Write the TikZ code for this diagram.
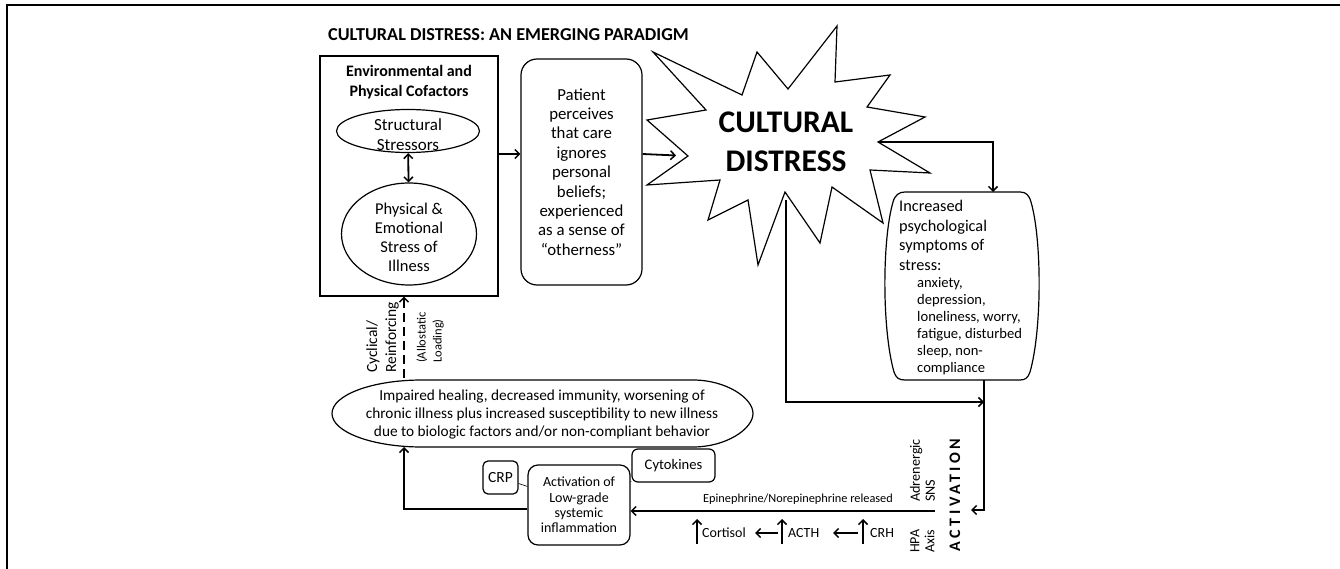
\documentclass[tikz,border=0pt]{standalone}
\usepackage{fontspec}
\setmainfont{Carlito}
\usetikzlibrary{shapes.geometric,arrows.meta}
\newcommand{\fsz}[2]{\fontsize{#1}{#2}\selectfont}
\begin{document}
\begin{tikzpicture}[x=1pt,y=-1pt,
  boxline/.style={draw=black,line width=1.2pt},
  tip/.tip={Straight Barb[length=4.5pt,width=9pt,line width=1.5pt]},
  arr/.style={line width=1.8pt,-tip},
  conn/.style={line width=1.8pt},
  plain/.style={inner sep=0pt,align=center}]
\useasboundingbox (0,0) rectangle (1340,569);
\draw[line width=2pt] (7,569) -- (7,5) -- (1340,5);

% title
\node[anchor=base west,inner sep=0pt,font=\bfseries\fsz{18.2}{20}] (title) at (328,41) {CULTURAL DISTRESS: AN EMERGING PARADIGM};

% environmental box
\node[boxline,minimum width=178pt,minimum height=240pt,inner sep=0pt] (env) at (409,176) {};
\node[plain,font=\bfseries\fsz{16}{20}] (envh) at (409,82) {Environmental and\\Physical Cofactors};
\node[draw,ellipse,line width=1.2pt,minimum width=143pt,minimum height=43pt,inner sep=0pt] (struct) at (408,131) {};
\node[plain,font=\fsz{17}{20}] (structt) at (408,135) {Structural\\Stressors};
\node[draw,ellipse,line width=1.2pt,minimum width=135pt,minimum height=102pt,inner sep=0pt] (phys) at (409,234) {};
\node[plain,font=\fsz{16.5}{19}] (physt) at (409,237) {Physical \&\\Emotional\\Stress of\\Illness};
\draw[line width=1.8pt,tip-tip] (struct) -- (phys);

% patient box
\node[boxline,rounded corners=16pt,minimum width=121pt,minimum height=226pt,align=center,font=\fsz{16.8}{19.4}] (patient) at (581.5,172) {Patient\\perceives\\that care\\ignores\\personal\\beliefs;\\experienced\\as a sense of\\“otherness”};

% star
\coordinate (s1) at (653,52);
\coordinate (s2) at (742,95);
\coordinate (s3) at (757,52);
\coordinate (s4) at (788,89);
\coordinate (s5) at (837,26);
\coordinate (s6) at (835,82);
\coordinate (s7) at (890,75);
\coordinate (s8) at (867,107);
\coordinate (s9) at (925,117);
\coordinate (s10) at (878,142);
\coordinate (s11) at (930,173);
\coordinate (s12) at (870,170);
\coordinate (s13) at (883,223);
\coordinate (s14) at (832,187);
\coordinate (s15) at (820,243);
\coordinate (s16) at (785,192);
\coordinate (s17) at (758,265);
\coordinate (s18) at (748,200);
\coordinate (s19) at (708,220);
\coordinate (s20) at (720,180);
\coordinate (s21) at (647,185);
\coordinate (s22) at (688,156);
\coordinate (s23) at (647,120);
\coordinate (s24) at (706,110);
\draw[line width=1.2pt] (s1)--(s2)--(s3)--(s4)--(s5)--(s6)--(s7)--(s8)--(s9)--(s10)--(s11)--(s12)--(s13)--(s14)--(s15)--(s16)--(s17)--(s18)--(s19)--(s20)--(s21)--(s22)--(s23)--(s24)--cycle;
\node[plain,font=\bfseries\fsz{31.5}{39}] (cd) at (786,142) {CULTURAL\\DISTRESS};

% right box
\draw[line width=1.2pt] (905,192) -- (1020,192) .. controls (1026,192) and (1029,195) .. (1031,202)
  .. controls (1042,240) and (1042,330) .. (1030,372) .. controls (1028,378) and (1025,380) .. (1020,380)
  -- (905,380) .. controls (899,380) and (896,378) .. (894,372) .. controls (882,330) and (882,240) .. (893,202)
  .. controls (895,195) and (899,192) .. (905,192) -- cycle;
\node[anchor=north west,inner sep=0pt,text width=140pt,align=left] (rbt) at (899,200) {%
  {\fsz{16.3}{19.5}Increased\\psychological\\symptoms of\\stress:\par}%
  {\fsz{14.6}{17}\leftskip=18pt anxiety,\\depression,\\loneliness, worry,\\fatigue, disturbed\\sleep, non-\\compliance\par}};
\coordinate (rbtop) at (993,192);
\coordinate (rbbot) at (984,380);

% big oval
\draw[line width=1.2pt] (422,380) -- (693,380) .. controls (726,380) and (753,398) .. (753,413.5)
  .. controls (753,429) and (726,447) .. (693,447) -- (422,447)
  .. controls (372,447) and (332,432) .. (332,413.5) .. controls (332,395) and (372,380) .. (422,380) -- cycle;
\node[plain,font=\fsz{15.3}{18}] (bigt) at (542,415) {Impaired healing, decreased immunity, worsening of\\chronic illness plus increased susceptibility to new illness\\due to biologic factors and/or non-compliant behavior};
\coordinate (bigtop) at (404,378);
\coordinate (bigbot) at (404,447);

% activation / CRP / cytokines
\node[boxline,rounded corners=10pt,minimum width=102pt,minimum height=80pt,align=center,font=\fsz{14}{15.3}] (actbox) at (579,505) {Activation of\\Low-grade\\systemic\\inflammation};
\node[boxline,rounded corners=5pt,minimum width=35pt,minimum height=33pt,inner sep=0pt,font=\fsz{15.5}{17}] (crp) at (500.5,477.5) {CRP};
\node[boxline,rounded corners=6pt,minimum width=83pt,minimum height=33pt,inner sep=0pt,font=\fsz{14.6}{17}] (cyto) at (673.5,465.5) {Cytokines};
\draw[line width=0.6pt] ([yshift=-6pt]crp.east) -- ([yshift=-22pt]actbox.north west);
\draw[line width=0.6pt] ([yshift=-17pt]actbox.north east) -- ([yshift=1pt]cyto.south west);

% connectors
\coordinate (p154) at (0,154);
\draw[arr] (env.east |- p154) -- (patient.west |- p154);
\draw[arr,shorten >=12pt] (patient.east |- p154) -- (s22);
\draw[arr] (s10) -| (rbtop);
\coordinate (sb) at (786,200);
\coordinate (j1) at (984,402);
\draw[arr] (sb) |- (j1);
\coordinate (actv) at (971,510);
\draw[arr] (rbbot) |- (actv);
\coordinate (epis) at (935,511);
\draw[arr] (epis) -- (actbox.east |- epis);
\coordinate (q509) at (0,509);
\draw[arr] (actbox.west |- q509) -| (bigbot);
\draw[arr,dash pattern=on 9pt off 5pt] (bigtop) -- (env.south -| bigtop);

% labels on connectors
\node[font=\fsz{12.3}{14},inner sep=0pt] (epi) at (798,499) {Epinephrine/Norepinephrine released};
\node[rotate=90,anchor=west,align=left,inner sep=0pt,font=\fsz{15.5}{19}] (cyc) at (382.5,373) {Cyclical/\\Reinforcing};
\node[rotate=90,anchor=west,align=left,inner sep=0pt,font=\fsz{12.5}{16}] (allo) at (430,363) {(Allostatic\\Loading)};
\node[rotate=90,anchor=west,align=left,inner sep=0pt,font=\fsz{14.2}{15}] (adr) at (922.5,502) {Adrenergic\\SNS};
\node[rotate=90,anchor=west,align=left,inner sep=0pt,font=\fsz{14}{15}] (hpa) at (922.5,553) {HPA\\Axis};
\node[rotate=90,inner sep=0pt,font=\bfseries\fsz{16}{18}\addfontfeature{LetterSpace=22}] (activ) at (955,495) {ACTIVATION};

% hormone cascade
\node[anchor=west,inner sep=0pt,font=\fsz{14}{16}] (cort) at (702,533) {Cortisol};
\node[anchor=west,inner sep=0pt,font=\fsz{14}{16}] (acth) at (788,533) {ACTH};
\node[anchor=west,inner sep=0pt,font=\fsz{14}{16}] (crh) at (870,533) {CRH};
\coordinate (u1a) at (697,544); \coordinate (u1b) at (697,519);
\coordinate (u2a) at (782,544); \coordinate (u2b) at (782,519);
\coordinate (u3a) at (863,544); \coordinate (u3b) at (863,519);
\draw[arr] (u1a) -- (u1b);
\draw[arr] (u2a) -- (u2b);
\draw[arr] (u3a) -- (u3b);
\coordinate (l1a) at (778,533); \coordinate (l1b) at (755,533);
\coordinate (l2a) at (858,533); \coordinate (l2b) at (833,533);
\draw[arr] (l1a) -- (l1b);
\draw[arr] (l2a) -- (l2b);
\end{tikzpicture}
\end{document}
